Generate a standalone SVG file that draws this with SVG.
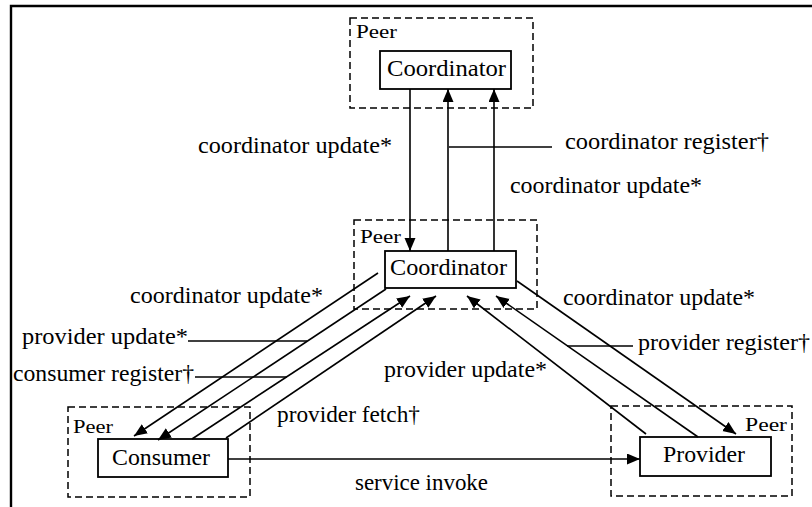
<svg xmlns="http://www.w3.org/2000/svg" width="812" height="507" viewBox="0 0 812 507">
  <style>
    text { font-family: "Liberation Serif", "Times New Roman", serif; fill: #000; }
    .node { fill: #fff; stroke: #000; stroke-width: 1.8; }
    .peer { fill: none; stroke: #000; stroke-width: 1.5; stroke-dasharray: 7 4; }
    .name { font-size: 24px; }
    .peer-label { font-size: 19px; }
    .label { font-size: 24px; }
    .edge { fill: none; stroke: #000; stroke-width: 1.6; }
    .arrow { marker-end: url(#head); }
    .frame { fill: none; stroke: #000; stroke-width: 2.4; }
  </style>
  <defs>
    <marker id="head" markerUnits="userSpaceOnUse" markerWidth="14" markerHeight="12" refX="13" refY="5.5" orient="auto">
      <path d="M0,0 L13,5.5 L0,11 z" fill="#000"/>
    </marker>
  </defs>

  <rect width="812" height="507" fill="#fff"/>
  <!-- page frame (top and left edges only) -->
  <path class="frame" d="M11,507 V6 H812"/>

  <!-- top peer -->
  <g id="peer-top">
    <rect class="peer" x="350" y="18" width="183" height="90"/>
    <text class="peer-label" x="356" y="38" textLength="41" lengthAdjust="spacingAndGlyphs">Peer</text>
    <g id="coordinator-top">
      <rect class="node" x="380" y="51" width="131" height="38"/>
      <text class="name" x="387" y="76" textLength="119" lengthAdjust="spacingAndGlyphs">Coordinator</text>
    </g>
  </g>

  <!-- middle peer -->
  <g id="peer-middle">
    <rect class="peer" x="354" y="220" width="183" height="89"/>
    <text class="peer-label" x="360" y="243" textLength="41" lengthAdjust="spacingAndGlyphs">Peer</text>
    <g id="coordinator-middle">
      <rect class="node" x="385" y="251" width="131" height="37"/>
      <text class="name" x="390" y="275" textLength="117" lengthAdjust="spacingAndGlyphs">Coordinator</text>
    </g>
  </g>

  <!-- consumer peer -->
  <g id="peer-consumer">
    <rect class="peer" x="68" y="407" width="182" height="90"/>
    <text class="peer-label" x="73" y="433" textLength="40" lengthAdjust="spacingAndGlyphs">Peer</text>
    <g id="consumer">
      <rect class="node" x="98" y="439" width="130" height="38"/>
      <text class="name" x="112" y="465" textLength="98" lengthAdjust="spacingAndGlyphs">Consumer</text>
    </g>
  </g>

  <!-- provider peer -->
  <g id="peer-provider">
    <rect class="peer" x="611" y="406" width="181" height="90"/>
    <text class="peer-label" x="745" y="431" textLength="42" lengthAdjust="spacingAndGlyphs">Peer</text>
    <g id="provider">
      <rect class="node" x="640" y="437" width="131" height="39"/>
      <text class="name" x="663" y="462" textLength="82" lengthAdjust="spacingAndGlyphs">Provider</text>
    </g>
  </g>

  <g id="connectors">
    <!-- between the two coordinators -->
    <path class="edge arrow" d="M410,89 V251"/>
    <path class="edge arrow" d="M448,251 V89"/>
    <path class="edge arrow" d="M494,251 V89"/>
    <path class="edge" d="M449,147 H552"/>

    <!-- coordinator and consumer -->
    <path class="edge arrow" d="M378,273 L134,436"/>
    <path class="edge arrow" d="M386,289 L158,440"/>
    <path class="edge arrow" d="M192,439 L410,296"/>
    <path class="edge arrow" d="M226,438 L436,296"/>
    <path class="edge" d="M188,341 H307"/>
    <path class="edge" d="M195,377 H287"/>

    <!-- coordinator and provider -->
    <path class="edge arrow" d="M517,281 L736,434"/>
    <path class="edge arrow" d="M698,437 L496,296"/>
    <path class="edge arrow" d="M646,434 L467,296"/>
    <path class="edge" d="M567,346 H633"/>

    <!-- consumer to provider -->
    <path class="edge arrow" d="M228,459 H640"/>
  </g>

  <g id="edge-labels">
    <text class="label" x="198" y="153" textLength="194" lengthAdjust="spacingAndGlyphs">coordinator update*</text>
    <text class="label" x="565" y="149" textLength="204" lengthAdjust="spacingAndGlyphs">coordinator register†</text>
    <text class="label" x="510" y="193" textLength="192" lengthAdjust="spacingAndGlyphs">coordinator update*</text>
    <text class="label" x="130" y="303" textLength="193" lengthAdjust="spacingAndGlyphs">coordinator update*</text>
    <text class="label" x="563" y="305" textLength="192" lengthAdjust="spacingAndGlyphs">coordinator update*</text>
    <text class="label" x="22" y="344" textLength="166" lengthAdjust="spacingAndGlyphs">provider update*</text>
    <text class="label" x="638" y="350" textLength="172" lengthAdjust="spacingAndGlyphs">provider register†</text>
    <text class="label" x="13" y="381" textLength="181" lengthAdjust="spacingAndGlyphs">consumer register†</text>
    <text class="label" x="384" y="377" textLength="163" lengthAdjust="spacingAndGlyphs">provider update*</text>
    <text class="label" x="277" y="422" textLength="143" lengthAdjust="spacingAndGlyphs">provider fetch†</text>
    <text class="label" x="355" y="490" textLength="133" lengthAdjust="spacingAndGlyphs">service invoke</text>
  </g>
</svg>
